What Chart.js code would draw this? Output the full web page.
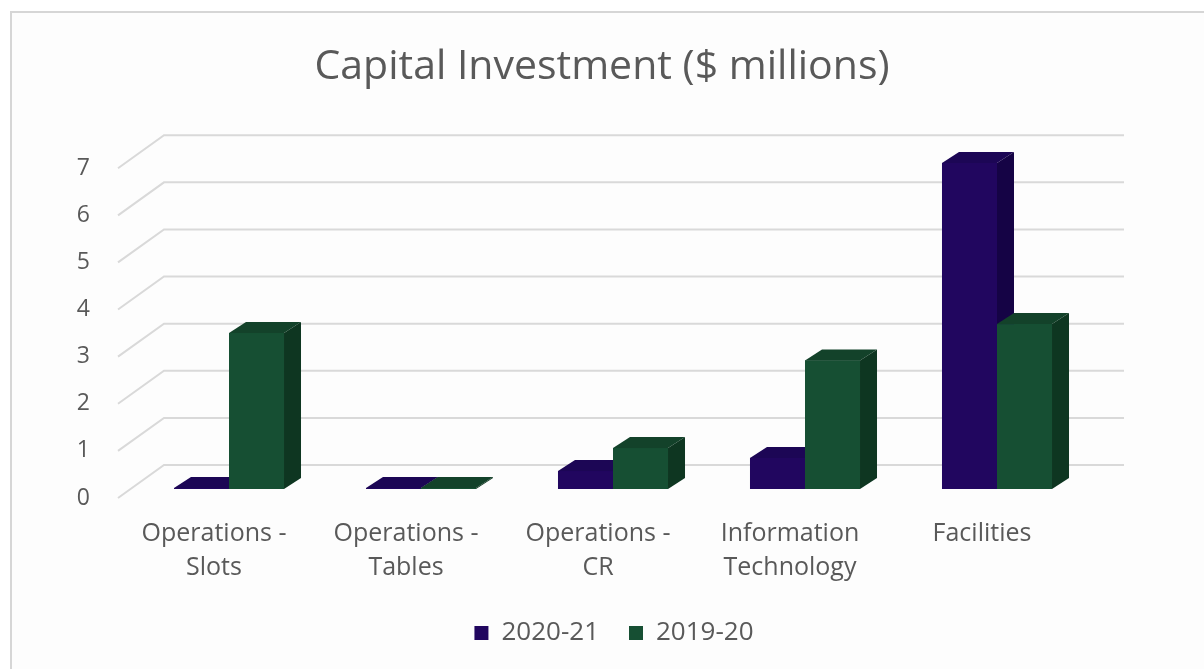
<!DOCTYPE html>
<html>
<head>
<meta charset="utf-8">
<script src="https://cdn.jsdelivr.net/npm/chart.js@4.4.1/dist/chart.umd.min.js"></script>
<style>
  html, body { margin: 0; padding: 0; background: #ffffff; }
  #wrap { position: relative; width: 1204px; height: 669px; overflow: hidden; }
  #frame { position: absolute; left: 10px; top: 11px; width: 1200px; height: 670px;
           border-left: 2px solid #d6d6d6; border-top: 2px solid #d6d6d6; background: #fdfdfd; }
  canvas { position: absolute; left: 0; top: 0; }
</style>
</head>
<body>
<div id="wrap">
  <div id="frame"></div>
  <canvas id="c" width="1204" height="669"></canvas>
</div>
<script>
const categories = [["Operations -", "Slots"], ["Operations -", "Tables"], ["Operations -", "CR"], ["Information", "Technology"], ["Facilities"]];
const series2020 = [0.02, 0.02, 0.38, 0.66, 6.92];
const series2019 = [3.31, 0.02, 0.87, 2.73, 3.50];
const seriesNames = ["2020-21", "2019-20"];
const yTicks = [0, 1, 2, 3, 4, 5, 6, 7];

const FONT = "'Open Sans', sans-serif";
const TXT = "#595959";
const WALL = { dx: 46, dy: -33 };      // back wall offset
const BARPOS = { dx: 15, dy: -9 };     // bar front offset from front plane
const DEPTH = { dx: 17, dy: -11 };     // bar depth
const LEGEND_SHIFT = 12;
const faces = [
  { front: "#21065f", top: "#1c0655", side: "#150345" },
  { front: "#164f33", top: "#13422a", side: "#0e3621" }
];

const threeD = {
  id: "threeD",
  afterLayout(chart) {
    if (chart.legend) { chart.legend.left += LEGEND_SHIFT; chart.legend.right += LEGEND_SHIFT; }
  },
  beforeDatasetsDraw(chart) {
    const ctx = chart.ctx, ys = chart.scales.y, a = chart.chartArea;
    ctx.save();
    ctx.strokeStyle = "#d9d9d9";
    ctx.lineWidth = 2;
    yTicks.forEach(v => {
      const y = ys.getPixelForValue(v);
      ctx.beginPath();
      ctx.moveTo(a.left, y);
      ctx.lineTo(a.left + WALL.dx, y + WALL.dy);
      ctx.lineTo(a.right + WALL.dx, y + WALL.dy);
      ctx.stroke();
    });
    ctx.restore();
    ctx.save();
    ctx.translate(BARPOS.dx, BARPOS.dy);
  },
  afterDatasetsDraw(chart) {
    const ctx = chart.ctx;
    const metas = chart.data.datasets.map((d, i) => chart.getDatasetMeta(i));
    const n = chart.data.labels.length;
    for (let j = 0; j < n; j++) {
      metas.forEach((m, i) => {
        const el = m.data[j];
        const p = el.getProps(["x", "y", "base", "width"], true);
        const l = p.x - p.width / 2, r = p.x + p.width / 2, t = Math.min(p.y, p.base - 1), b = p.base;
        const f = faces[i];
        ctx.fillStyle = f.front;
        ctx.fillRect(l, t, r - l, b - t);
        ctx.fillStyle = f.top;
        ctx.beginPath();
        ctx.moveTo(l, t); ctx.lineTo(l + DEPTH.dx, t + DEPTH.dy);
        ctx.lineTo(r + DEPTH.dx, t + DEPTH.dy); ctx.lineTo(r, t); ctx.closePath();
        ctx.fill();
        ctx.fillStyle = f.side;
        ctx.beginPath();
        ctx.moveTo(r, t); ctx.lineTo(r + DEPTH.dx, t + DEPTH.dy);
        ctx.lineTo(r + DEPTH.dx, b + DEPTH.dy); ctx.lineTo(r, b); ctx.closePath();
        ctx.fill();
      });
    }
    ctx.restore();
  }
};

new Chart(document.getElementById("c"), {
  type: "bar",
  data: {
    labels: categories,
    datasets: [
      { label: seriesNames[0], data: series2020, backgroundColor: faces[0].front, clip: false,
        categoryPercentage: 0.573, barPercentage: 1 },
      { label: seriesNames[1], data: series2019, backgroundColor: faces[1].front, clip: false,
        categoryPercentage: 0.573, barPercentage: 1 }
    ]
  },
  options: {
    responsive: false,
    animation: false,
    devicePixelRatio: 1,
    layout: { padding: { left: 0, right: 0, top: 0, bottom: 13 } },
    plugins: {
      title: {
        display: true,
        text: "Capital Investment ($ millions)",
        color: TXT,
        font: { family: FONT, size: 41, weight: "normal", lineHeight: 1.2 },
        padding: { top: 43, bottom: 76 }
      },
      legend: {
        position: "bottom",
        labels: {
          color: TXT,
          font: { family: FONT, size: 26 },
          boxWidth: 14, boxHeight: 14,
          padding: 30
        }
      },
      tooltip: { enabled: false }
    },
    scales: {
      x: {
        grid: { display: false, drawTicks: false },
        border: { display: false },
        ticks: { color: TXT, font: { family: FONT, size: 25, lineHeight: 1.36 }, padding: 19, maxRotation: 0, autoSkip: false },
        afterFit(s) { s.height = 92; }
      },
      y: {
        min: 0, max: 7,
        grid: { display: false, drawTicks: false },
        border: { display: false },
        ticks: { color: TXT, font: { family: FONT, size: 23 }, padding: 28, stepSize: 1 },
        afterFit(s) { s.width = 118; }
      },
      yRightSpace: {
        position: "right",
        display: true,
        grid: { display: false, drawTicks: false },
        border: { display: false },
        ticks: { display: false },
        afterFit(s) { s.width = 126; }
      }
    }
  },
  plugins: [threeD]
});
</script>
</body>
</html>
